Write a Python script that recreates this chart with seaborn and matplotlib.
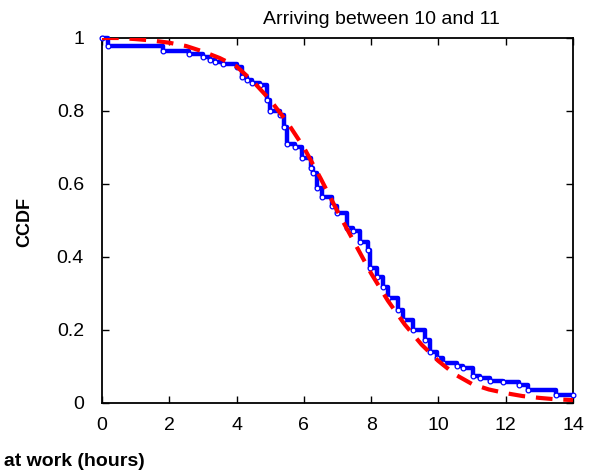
import matplotlib
matplotlib.use("Agg")
import matplotlib.pyplot as plt
import seaborn as sns
import pandas as pd

# Empirical CCDF (blue step curve): hours, fraction
emp_hours = [0, 0.18, 1.8, 2.6, 3.0, 3.2, 3.36, 3.6, 4.0, 4.16, 4.3, 4.46, 4.7, 4.9,
             5.0, 5.3, 5.4, 5.5, 5.74, 5.95, 6.2, 6.27, 6.4, 6.54, 6.84, 6.99, 7.28,
             7.46, 7.67, 7.9, 7.97, 8.17, 8.35, 8.5, 8.8, 8.95, 9.25, 9.6, 9.75, 9.96,
             10.14, 10.55, 10.73, 11.03, 11.24, 11.53, 11.92, 12.4, 12.66, 13.5, 14.0]
emp_ccdf = [1.0, 0.979, 0.964, 0.956, 0.949, 0.94, 0.933, 0.928, 0.92, 0.894, 0.885,
            0.876, 0.87, 0.83, 0.80, 0.79, 0.756, 0.71, 0.70, 0.67, 0.644, 0.63, 0.59,
            0.565, 0.54, 0.52, 0.48, 0.47, 0.44, 0.42, 0.37, 0.345, 0.318, 0.288,
            0.255, 0.227, 0.20, 0.173, 0.14, 0.123, 0.11, 0.10, 0.096, 0.074, 0.068,
            0.06, 0.057, 0.049, 0.036, 0.022, 0.022]

# Fitted CCDF (red dashed curve)
fit_hours = [0, 0.5, 1.0, 1.5, 2.0, 2.5, 3.0, 3.5, 4.0, 4.5, 5.0, 5.5, 6.0, 6.5, 7.0,
             7.5, 8.0, 8.5, 9.0, 9.5, 10.0, 10.5, 11.0, 11.5, 12.0, 12.5, 13.0, 13.5, 14.0]
fit_ccdf = [1.0, 1.0, 0.997, 0.993, 0.987, 0.978, 0.963, 0.945, 0.922, 0.88, 0.83,
            0.77, 0.70, 0.615, 0.525, 0.44, 0.355, 0.28, 0.215, 0.16, 0.115, 0.078,
            0.052, 0.037, 0.027, 0.019, 0.014, 0.010, 0.008]

x_ticks = [0, 2, 4, 6, 8, 10, 12, 14]
y_ticks = [0, 0.2, 0.4, 0.6, 0.8, 1.0]
y_tick_labels = ["0", "0.2", "0.4", "0.6", "0.8", "1"]

sns.set_style("ticks")
plt.rcParams['font.family'] = ['Liberation Sans', 'DejaVu Sans']
plt.rcParams['text.color'] = 'black'

fig = plt.figure(figsize=(5.91, 4.72), dpi=100)
ax = fig.add_axes([0.1726, 0.1462, 0.7969, 0.7733])

emp_df = pd.DataFrame({"hours": emp_hours, "ccdf": emp_ccdf})
fit_df = pd.DataFrame({"hours": fit_hours, "ccdf": fit_ccdf})

sns.lineplot(data=emp_df, x="hours", y="ccdf", ax=ax, color="#0000ff",
             linewidth=3.2, drawstyle="steps-post", marker="o", markersize=3.4,
             markerfacecolor="white", markeredgecolor="#0000ff", markeredgewidth=0.9,
             estimator=None, sort=False, clip_on=False, zorder=3)
sns.lineplot(data=fit_df, x="hours", y="ccdf", ax=ax, color="#ff0000",
             linewidth=3.0, estimator=None, sort=False, zorder=4,
             dashes=False)
ax.lines[-1].set_dashes((4.0, 2.6))
ax.lines[-1].set_dash_capstyle("butt")

ax.set_xlim(0, 14)
ax.set_ylim(0, 1)
ax.set_xticks(x_ticks)
ax.set_xticklabels([str(t) for t in x_ticks])
ax.set_yticks(y_ticks)
ax.set_yticklabels(y_tick_labels)
ax.tick_params(axis="both", direction="in", length=5, width=1, labelsize=14,
               top=True, right=True, colors="black")
ax.tick_params(axis="x", pad=10)
ax.tick_params(axis="y", pad=13)
for s in ax.spines.values():
    s.set_linewidth(1.3)
    s.set_color("black")
ax.set_xlabel("")
ax.set_ylabel("")

fig.text(381 / 591, 1 - 20 / 472, "Arriving between 10 and 11", ha="center",
         va="center", fontsize=14, color="black")
fig.text(25 / 591, 1 - 222 / 472, "CCDF", rotation=90, ha="center", va="center",
         fontsize=13, fontweight="bold", color="black")
fig.text(145 / 591, 1 - 462 / 472, "Time spent at work (hours)", ha="right",
         va="center", fontsize=14, fontweight="bold", color="black")

fig.savefig("out.png", dpi=100)
